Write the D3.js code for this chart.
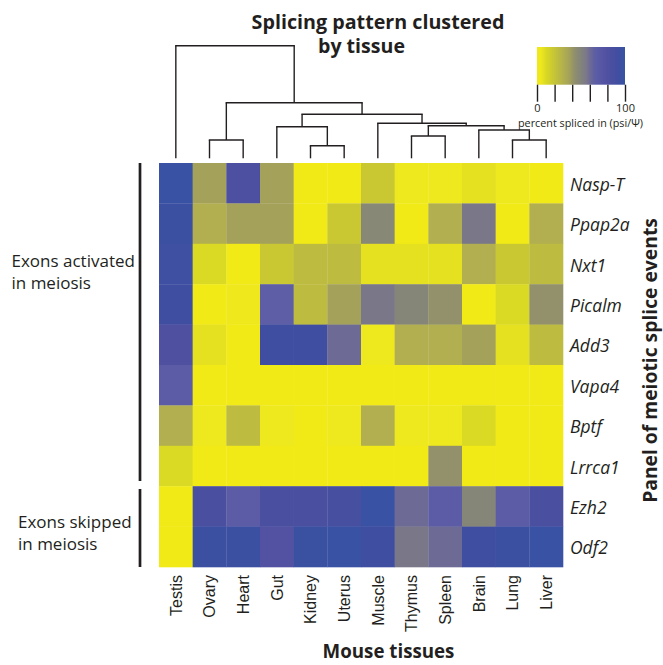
<!DOCTYPE html>
<html>
<head>
<meta charset="utf-8">
<script src="https://cdn.jsdelivr.net/npm/d3@7"></script>
<style>
  html, body { margin: 0; padding: 0; background: #fff; }
  svg { display: block; }
  text { fill: #231f20; }
</style>
</head>
<body>
<svg id="chart" width="663" height="665"></svg>
<script>
// ---------------- data ----------------
const tissues = ["Testis","Ovary","Heart","Gut","Kidney","Uterus","Muscle","Thymus","Spleen","Brain","Lung","Liver"];
const genes = ["Nasp-T","Ppap2a","Nxt1","Picalm","Add3","Vapa4","Bptf","Lrrca1","Ezh2","Odf2"];
// percent spliced in (psi), rows = genes, columns = tissues
const psiNaspT  = [98,37,82,37, 0, 0,18, 4, 4, 7, 4, 0];
const psiPpap2a = [95,30,37,37, 0,18,47, 0,30,56, 0,30];
const psiNxt1   = [93,10, 0,18,24,24, 7, 7, 7,30,18,24];
const psiPicalm = [92, 0, 3,66,24,37,56,48,42, 0,10,42];
const psiAdd3   = [80, 7, 0,92,92,60, 4,30,30,37, 7,24];
const psiVapa4  = [68, 0, 0, 0, 0, 0, 0, 0, 0, 0, 0, 0];
const psiBptf   = [30, 4,24, 4, 0, 4,30, 4, 4,10, 0, 0];
const psiLrrca1 = [10, 0, 0, 0, 0, 0, 0, 0,42, 0, 0, 0];
const psiEzh2   = [ 0,85,68,85,85,88,98,60,68,48,68,85];
const psiOdf2   = [ 0,95,95,78,97,98,92,56,60,92,95,98];
const psiRows = [psiNaspT,psiPpap2a,psiNxt1,psiPicalm,psiAdd3,psiVapa4,psiBptf,psiLrrca1,psiEzh2,psiOdf2];

// colour map
const colorDomain = [0,5,10,18,24,30,37,42,48,56,60,66,78,85,92,100];
const colorRange  = ["#f2ea16","#ede720","#dad923","#c9c833","#bdbc40","#b1af50","#a4a15b","#92916b",
                     "#868678","#7a7888","#6d6b95","#5d5ea5","#5251a2","#4a4fa0","#404ea1","#3653a3"];
const legendTicks = [0,20,40,60,80,100];
const legendLabelValues = [0,100];

// dendrogram (merge heights)
const dendro = {h:1.126, c:[
  {n:"Testis"},
  {h:0.556, c:[
    {h:0.183, c:[{n:"Ovary"},{n:"Heart"}]},
    {h:0.440, c:[
      {h:0.316, c:[{n:"Gut"},{h:0.126, c:[{n:"Kidney"},{n:"Uterus"}]}]},
      {h:0.350, c:[
        {n:"Muscle"},
        {h:0.326, c:[
          {h:0.223, c:[{n:"Thymus"},{n:"Spleen"}]},
          {h:0.283, c:[{n:"Brain"},{h:0.183, c:[{n:"Lung"},{n:"Liver"}]}]}
        ]}
      ]}
    ]}
  ]}
]};

const groups = [
  {lines:["Exons activated","in meiosis"], from:"Nasp-T", to:"Lrrca1"},
  {lines:["Exons skipped","in meiosis"], from:"Ezh2", to:"Odf2"}
];

// ---------------- drawing ----------------
const svg = d3.select("#chart");
const ink = "#231f20";
const sans = "'Open Sans', 'Noto Sans', sans-serif";

const x = d3.scaleBand().domain(tissues).range([159, 563]);
const y = d3.scaleBand().domain(genes).range([163, 567]);
const color = d3.scaleLinear().domain(colorDomain).range(colorRange).interpolate(d3.interpolateRgb);

function fit(sel, w) {
  const fs = parseFloat(sel.attr("font-size"));
  const len = sel.node().getComputedTextLength();
  sel.attr("font-size", (fs * w / len).toFixed(2));
  return sel;
}

// heatmap cells
const cells = [];
psiRows.forEach((row, i) => row.forEach((v, j) => cells.push({g: genes[i], t: tissues[j], v})));
svg.append("g").selectAll("rect").data(cells).join("rect")
  .attr("x", d => x(d.t)).attr("y", d => y(d.g))
  .attr("width", x.bandwidth() + 0.3).attr("height", y.bandwidth() + 0.3)
  .attr("fill", d => color(d.v));

// dendrogram
const root = d3.hierarchy(dendro, d => d.c);
const hScale = d3.scaleLinear().domain([0, 1.126]).range([158.3, 45.7]);
root.eachAfter(node => {
  if (!node.children) { node.px = x(node.data.n) + x.bandwidth() / 2; node.ph = 0; }
  else {
    node.px = (node.children[0].px + node.children[node.children.length - 1].px) / 2;
    node.ph = node.data.h;
  }
});
const dg = svg.append("g").attr("stroke", ink).attr("stroke-width", 1.4).attr("fill", "none");
root.descendants().filter(n => n.children).forEach(n => {
  const yy = hScale(n.ph);
  dg.append("line").attr("x1", n.children[0].px - 0.7).attr("x2", n.children[n.children.length-1].px + 0.7)
    .attr("y1", yy).attr("y2", yy);
  n.children.forEach(c => {
    dg.append("line").attr("x1", c.px).attr("x2", c.px).attr("y1", yy).attr("y2", hScale(c.ph));
  });
});

// titles
fit(svg.append("text").attr("x", 378).attr("y", 28.5).attr("text-anchor", "middle")
  .attr("font-family", sans).attr("font-weight", 700).attr("font-size", 20)
  .text("Splicing pattern clustered"), 253);
fit(svg.append("text").attr("x", 361.5).attr("y", 53).attr("text-anchor", "middle")
  .attr("font-family", sans).attr("font-weight", 700).attr("font-size", 20)
  .text("by tissue"), 87);

// column labels
svg.append("g").selectAll("text").data(tissues).join("text")
  .attr("transform", d => `translate(${x(d) + x.bandwidth()/2},575) rotate(-90)`)
  .attr("dy", "0.36em").attr("text-anchor", "end")
  .attr("font-family", "'Liberation Sans', Arial, sans-serif").attr("font-size", 16)
  .text(d => d);

// row labels
svg.append("g").selectAll("text").data(genes).join("text")
  .attr("x", 570).attr("y", d => y(d) + y.bandwidth()/2 + 1.5)
  .attr("dy", "0.35em")
  .attr("font-family", sans).attr("font-style", "italic").attr("font-size", 17.5)
  .text(d => d);

// right axis title
const rt = svg.append("text").attr("transform", "translate(650,360.5) rotate(-90)")
  .attr("dy", "0.35em").attr("text-anchor", "middle")
  .attr("font-family", sans).attr("font-weight", 700).attr("font-size", 18)
  .text("Panel of meiotic splice events");
fit(rt, 285);

// bottom axis title
fit(svg.append("text").attr("x", 388.5).attr("y", 658).attr("text-anchor", "middle")
  .attr("font-family", sans).attr("font-weight", 700).attr("font-size", 20)
  .text("Mouse tissues"), 132);

// left group brackets and labels
const gy = [[163, 481, 266.7], [489, 567, 528]];
let leftFs = null;
groups.forEach((g, i) => {
  svg.append("line").attr("x1", 140).attr("x2", 140)
    .attr("y1", gy[i][0]).attr("y2", gy[i][1])
    .attr("stroke", ink).attr("stroke-width", 2.7);
  const tx = i === 0 ? 11.5 : 18;
  g.lines.forEach((ln, k) => {
    const t = svg.append("text").attr("x", tx).attr("y", gy[i][2] + k * 21.8)
      .attr("font-family", sans).attr("font-size", 17).text(ln);
    if (leftFs === null) { fit(t, 123.5); leftFs = t.attr("font-size"); }
    else t.attr("font-size", leftFs);
  });
});

// legend
const lx = d3.scaleLinear().domain([0, 100]).range([537, 625]);
const grad = svg.append("defs").append("linearGradient").attr("id", "lg")
  .attr("x1", "0%").attr("x2", "100%").attr("y1", "0%").attr("y2", "0%");
d3.range(0, 101, 2).forEach(v => grad.append("stop").attr("offset", v + "%").attr("stop-color", color(v)));
svg.append("rect").attr("x", lx(0)).attr("y", 47).attr("width", lx(100) - lx(0)).attr("height", 37.7)
  .attr("fill", "url(#lg)");
const lax = svg.append("g").attr("transform", "translate(0,84.7)")
  .call(d3.axisBottom(lx).tickValues(legendTicks).tickSize(17).tickSizeOuter(0)
    .tickFormat(d => legendLabelValues.includes(d) ? String(d) : ""));
lax.select(".domain").remove();
lax.selectAll("line").attr("stroke", ink).attr("stroke-width", 1.4);
lax.selectAll("text").attr("font-family", sans).attr("font-size", 11).attr("fill", ink).attr("y", 19.5);
fit(svg.append("text").attr("x", 580.5).attr("y", 126.5).attr("text-anchor", "middle")
  .attr("font-family", sans).attr("font-size", 10).text("percent spliced in (psi/Ψ)"), 125);
</script>
</body>
</html>
